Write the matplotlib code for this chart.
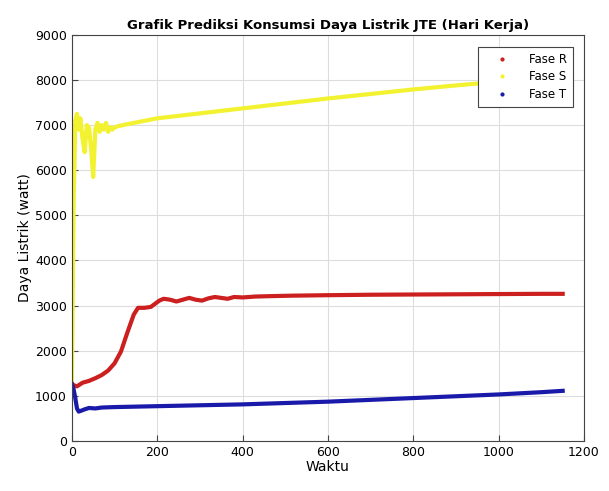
import numpy as np
import matplotlib.pyplot as plt
from matplotlib.lines import Line2D

# data
t_r = [0, 5, 12, 25, 40, 55, 70, 85, 100, 115, 130, 145, 155, 170, 185, 195, 205, 215,
       230, 245, 260, 275, 290, 305, 320, 335, 350, 365, 380, 400, 430, 470, 520, 600,
       700, 800, 900, 1000, 1100, 1150]
fase_r = [1270, 1230, 1210, 1290, 1330, 1390, 1460, 1560, 1720, 1980, 2400, 2800, 2950,
          2950, 2970, 3040, 3110, 3150, 3130, 3090, 3130, 3170, 3130, 3110, 3160, 3190,
          3170, 3150, 3190, 3180, 3200, 3210, 3220, 3230, 3240, 3245, 3250, 3255, 3260, 3260]

t_s = [0, 4, 8, 12, 16, 20, 25, 30, 35, 40, 45, 50, 55, 60, 65, 70, 75, 80, 85, 90,
       95, 100, 110, 130, 200, 300, 400, 500, 600, 700, 800, 900, 1000, 1100, 1150]
fase_s = [1250, 5200, 7100, 7250, 6900, 7150, 6700, 6400, 7000, 6950, 6500, 5850, 6900,
          7050, 6850, 7000, 6900, 7050, 6850, 6950, 6900, 6950, 6980, 7020, 7150, 7260,
          7370, 7480, 7590, 7690, 7790, 7880, 7960, 8050, 8100]

t_t = [0, 4, 8, 12, 16, 22, 30, 40, 55, 70, 100, 200, 300, 400, 500, 600, 700, 800,
       900, 1000, 1100, 1150]
fase_t = [1260, 1150, 950, 720, 650, 670, 700, 730, 720, 740, 750, 770, 790, 810, 840,
          870, 910, 950, 990, 1030, 1080, 1110]

fig = plt.figure(figsize=(6.09, 4.91), dpi=100)
ax = fig.add_axes([0.118, 0.102, 0.841, 0.827])

ax.plot(t_s, fase_s, color='#f2f230', linewidth=3)
ax.plot(t_r, fase_r, color='#cc1f1f', linewidth=3)
ax.plot(t_t, fase_t, color='#1a1aaa', linewidth=3)

ax.set_xlim(0, 1200)
ax.set_ylim(0, 9000)
ax.set_xticks(np.arange(0, 1201, 200))
ax.set_yticks(np.arange(0, 9001, 1000))
ax.grid(True, color='#dddddd', linewidth=0.8)
ax.tick_params(labelsize=9, direction='in', length=4, color='#444444')
for s in ax.spines.values():
    s.set_color('#444444')

ax.set_title("Grafik Prediksi Konsumsi Daya Listrik JTE (Hari Kerja)",
             fontsize=9.5, fontweight='bold', pad=4)
ax.set_xlabel("Waktu", fontsize=10, labelpad=1)
ax.set_ylabel("Daya Listrik (watt)", fontsize=10, labelpad=2)

handles = [
    Line2D([], [], linestyle='none', marker='.', markersize=4, color='#cc1f1f'),
    Line2D([], [], linestyle='none', marker='.', markersize=4, color='#f2f230'),
    Line2D([], [], linestyle='none', marker='.', markersize=4, color='#1a1aaa'),
]
leg = ax.legend(handles, ["Fase R", "Fase S", "Fase T"], loc='upper right',
                fontsize=8.5, fancybox=False, framealpha=1, edgecolor='#444444',
                handlelength=3, borderpad=0.5, labelspacing=0.4,
                bbox_to_anchor=(0.99, 0.985))
leg.get_frame().set_linewidth(0.8)

plt.savefig("out.png", dpi=100)
